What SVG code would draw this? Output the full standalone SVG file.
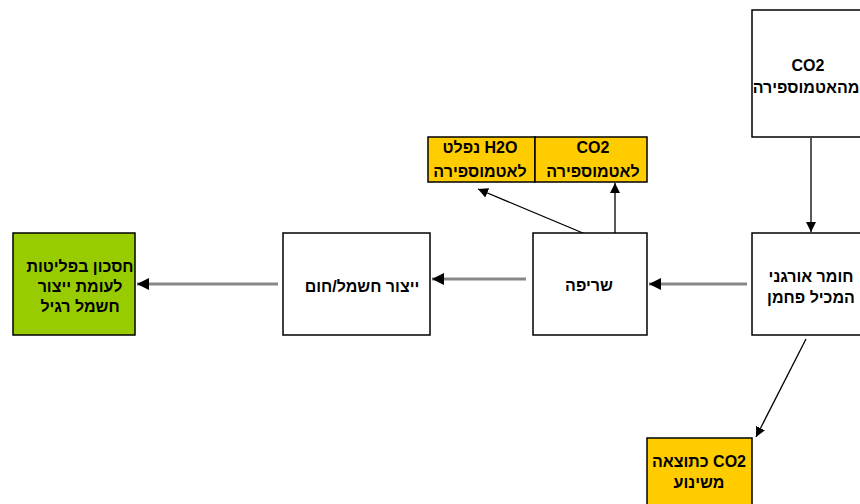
<svg xmlns="http://www.w3.org/2000/svg" width="860" height="504" viewBox="0 0 860 504">
<style>
.box{stroke:#000;stroke-width:1.5}
.w{fill:#fff}
.y{fill:#ffcc00}
.g{fill:#99cc00}
text{font-family:"Liberation Sans","Noto Sans",sans-serif;font-weight:bold;font-size:16px;fill:#000;text-anchor:middle;direction:rtl;unicode-bidi:embed}
.gl{stroke:#888;stroke-width:3;fill:none}
.bl{stroke:#000;stroke-width:1.3;fill:none}
</style>
<defs>
<marker id="ah" viewBox="0 0 10 10" refX="10" refY="5" markerWidth="10" markerHeight="10" markerUnits="userSpaceOnUse" orient="auto">
<path d="M0,0 L10,5 L0,10 z" fill="#000"/>
</marker>
<marker id="ahg" viewBox="0 0 10 10" refX="10" refY="5" markerWidth="4" markerHeight="4" orient="auto">
<path d="M0,0 L10,5 L0,10 z" fill="#000"/>
</marker>
</defs>
<rect width="860" height="504" fill="#fff"/>
<g id="connectors">
<line class="gl" x1="747" y1="284" x2="649" y2="284" marker-end="url(#ahg)"/>
<line class="gl" x1="526" y1="279" x2="432" y2="279" marker-end="url(#ahg)"/>
<line class="gl" x1="278" y1="284" x2="137" y2="284" marker-end="url(#ahg)"/>
<line class="bl" x1="811" y1="138" x2="811" y2="232" marker-end="url(#ah)"/>
<line class="bl" x1="615" y1="233" x2="615" y2="183" marker-end="url(#ah)"/>
<line class="bl" x1="590" y1="236" x2="478" y2="189" marker-end="url(#ah)"/>
<line class="bl" x1="806" y1="339" x2="756" y2="437" marker-end="url(#ah)"/>
</g>
<g id="co2-atm">
<rect class="box w" x="752" y="10" width="130" height="127"/>
<text x="808" y="71">CO2</text>
<text x="806" y="93">מהאטמוספירה</text>
</g>
<g id="h2o">
<rect class="box y" x="428" y="137" width="107" height="45"/>
<text x="480" y="153">H2O נפלט</text>
<text x="480" y="177">לאטמוספירה</text>
</g>
<g id="co2-out">
<rect class="box y" x="535" y="137" width="112" height="45"/>
<text x="593" y="153">CO2</text>
<text x="593" y="177">לאטמוספירה</text>
</g>
<g id="organic">
<rect class="box w" x="752" y="233" width="130" height="102"/>
<text x="811" y="282">חומר אורגני</text>
<text x="811" y="303">המכיל פחמן</text>
</g>
<g id="burn">
<rect class="box w" x="533" y="233" width="114" height="102"/>
<text x="589" y="291">שריפה</text>
</g>
<g id="power">
<rect class="box w" x="283" y="233" width="147" height="102"/>
<text x="362" y="292">ייצור חשמל/חום</text>
</g>
<g id="saving">
<rect class="box g" x="13" y="233" width="122" height="102"/>
<text x="80" y="272">חסכון בפליטות</text>
<text x="80" y="292">לעומת ייצור</text>
<text x="80" y="312">חשמל רגיל</text>
</g>
<g id="transport">
<rect class="box y" x="647" y="438" width="105" height="80"/>
<text x="699" y="467">CO2 כתוצאה</text>
<text x="699" y="488">משינוע</text>
</g>
</svg>
